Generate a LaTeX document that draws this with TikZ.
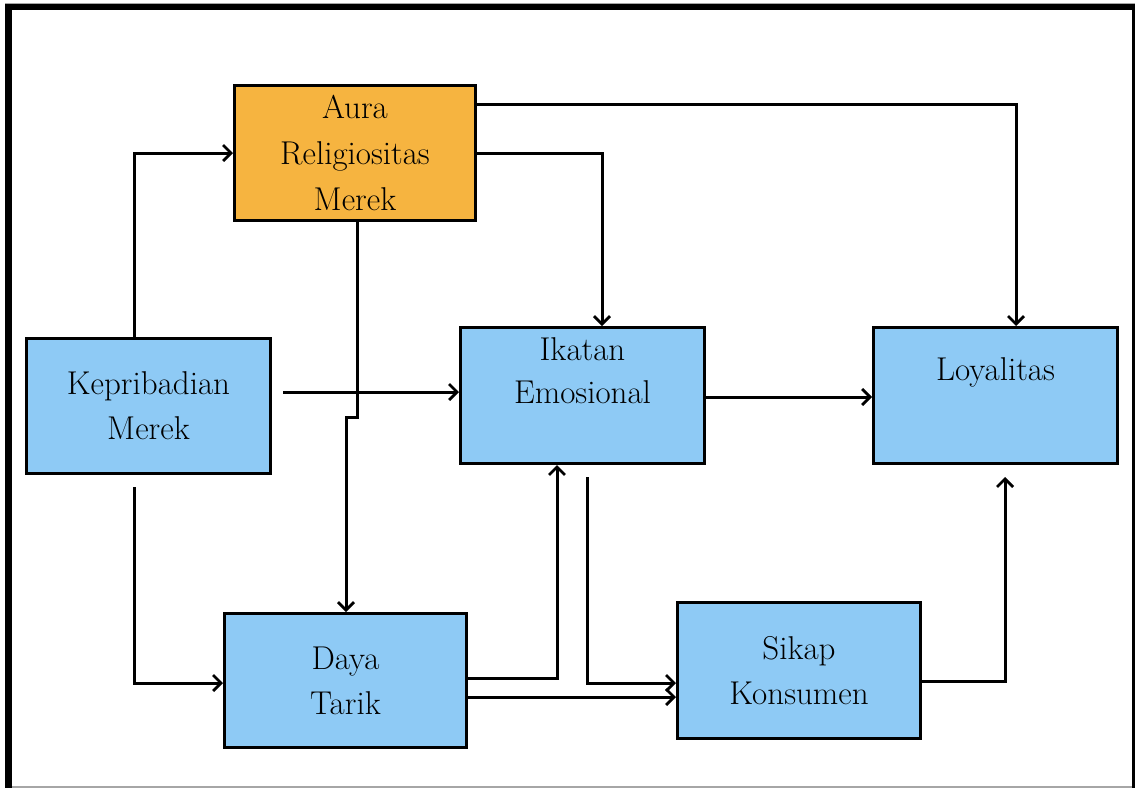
\documentclass[tikz,border=0pt]{standalone}
\usepackage{fontspec}
\usetikzlibrary{arrows.meta}
\definecolor{boxblue}{RGB}{142,202,245}
\definecolor{boxorange}{RGB}{246,180,64}
\tikzset{
  box/.style={draw=black, line width=3pt, fill=boxblue, rectangle, inner sep=0pt, align=center,
              font=\fontsize{33}{45}\selectfont},
  lbl/.style={inner sep=0pt, align=center, font=\fontsize{33}{43}\selectfont},
  arr/.style={line width=3pt, line join=miter, -{Straight Barb[length=8pt,width=16pt,line width=2.8pt]}},
}
\begin{document}
\begin{tikzpicture}[x=1pt,y=-1pt]
\useasboundingbox (0,0) rectangle (1135,788);
% frame
\fill[black] (5,4) rectangle (12,788);
\fill[black] (5,4) rectangle (1135,10);
\fill[gray!70] (5,2.5) rectangle (1135,4);
\fill[black] (1132,10) rectangle (1134.5,788);
\fill[gray!70] (12,785.5) rectangle (1132,787.5);
% boxes
\node[box, fill=boxorange, minimum width=241pt, minimum height=135pt, font=\fontsize{33}{46}\selectfont] (au) at (355,153) {Aura\\Religiositas\\Merek};
\node[box, minimum width=244pt, minimum height=135pt] (kb) at (148.5,406) {Kepribadian\\Merek};
\node[box, minimum width=244pt, minimum height=136pt] (ie) at (582.5,395.5) {};
\node[lbl] (iet) at (582.5,371) {Ikatan\\Emosional};
\node[box, minimum width=244pt, minimum height=136pt] (lo) at (995.5,395.5) {};
\node[lbl] (lot) at (995.5,372) {Loyalitas};
\node[box, minimum width=242pt, minimum height=134pt] (dt) at (345.5,680.5) {Daya\\Tarik};
\node[box, minimum width=243pt, minimum height=136pt] (sk) at (799,670.5) {Sikap\\Konsumen};
% connectors
\draw[arr] ([xshift=-14.5pt]kb.north) |- (au.west);
\coordinate (s2) at ([xshift=-14.5pt,yshift=-12pt]kb.south);
\draw[arr] (s2) |- ([yshift=-2.5pt]dt.west);
\coordinate (s3) at ([xshift=11pt,yshift=14pt]kb.east);
\draw[arr] (s3) -- (s3 -| ie.west);
\draw[arr] ([yshift=49pt]au.east) -| ([xshift=20.5pt]lo.north);
\draw[arr] (au.east) -| ([xshift=19.5pt]ie.north);
\coordinate (j1) at (357,417);
\coordinate (j2) at (346,417);
\draw[arr] ([xshift=2pt]au.south) -- (j1) -- (j2) -- (j2 |- dt.north);
\draw[arr] ([yshift=-1.5pt]ie.east) -- ([yshift=-1.5pt]lo.west);
\draw[arr] ([yshift=2.5pt]dt.east) -| ([xshift=-25.5pt]ie.south);
\coordinate (s9) at ([yshift=-16.5pt]dt.east);
\draw[arr] (s9) -- (s9 -| sk.west);
\coordinate (s10) at ([xshift=4.5pt,yshift=-12pt]ie.south);
\draw[arr] (s10) |- ([yshift=-12.5pt]sk.west);
\coordinate (e11) at ([xshift=9.5pt,yshift=-12pt]lo.south);
\draw[arr] ([yshift=-10.5pt]sk.east) -| (e11);
\end{tikzpicture}
\end{document}
